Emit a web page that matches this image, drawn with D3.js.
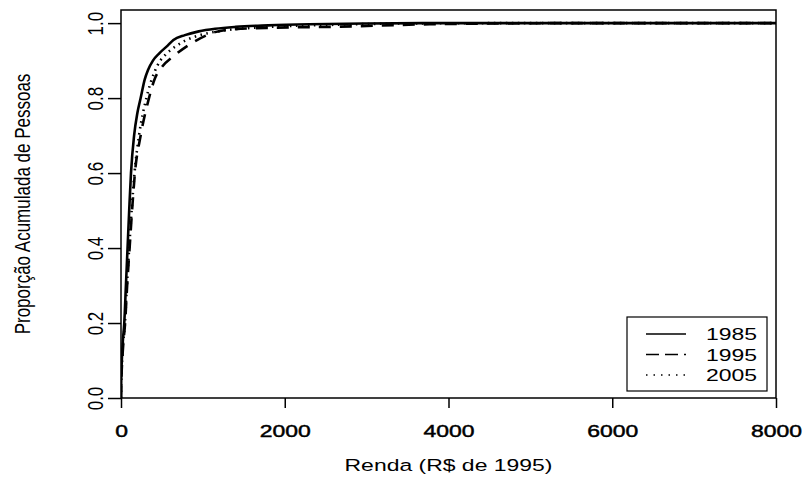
<!doctype html>
<html lang="pt">
  <head>
    <meta charset="UTF-8" />
    <title>Proporção Acumulada de Pessoas</title>
    <script src="https://d3js.org/d3.v7.min.js"></script>
    <style>
      body { margin: 0; background: #fff; }
      svg { display: block; }
      text { font-family: "Liberation Sans", Arial, sans-serif; fill: #000; }
    </style>
  </head>
  <body>
    <svg width="805" height="479"></svg>
    <script>
      // dados
      const anos = ["1985", "1995", "2005"];
      const renda1985 = [0, 3, 10, 22, 40, 60, 80, 100, 122, 160, 200, 240, 290, 330, 390, 470, 570, 640, 780, 950, 1150, 1400, 1800, 2300, 3000, 4000, 8000];
      const prop1985 = [0, 0.05, 0.1, 0.15, 0.2, 0.3, 0.4, 0.5, 0.6, 0.7, 0.76, 0.8, 0.85, 0.875, 0.9, 0.92, 0.94, 0.955, 0.968, 0.978, 0.985, 0.99, 0.994, 0.997, 0.999, 1.0, 1.0];
      const renda1995 = [0, 5, 15, 30, 50, 75, 105, 135, 170, 240, 330, 415, 500, 660, 867, 1148, 1392, 1900, 2550, 3770, 5500, 8000];
      const prop1995 = [0, 0.05, 0.1, 0.15, 0.2, 0.3, 0.4, 0.5, 0.6, 0.7, 0.79, 0.853, 0.883, 0.915, 0.947, 0.976, 0.984, 0.988, 0.99, 0.997, 1.0, 1.0];
      const renda2005 = [0, 4, 13, 28, 48, 72, 100, 130, 165, 220, 310, 410, 480, 540, 680, 800, 1000, 1250, 1800, 2500, 3500, 5000, 8000];
      const prop2005 = [0, 0.05, 0.1, 0.15, 0.2, 0.3, 0.4, 0.5, 0.6, 0.7, 0.8, 0.87, 0.9, 0.915, 0.94, 0.955, 0.97, 0.98, 0.99, 0.995, 0.999, 1.0, 1.0];
      const xTicks = [0, 2000, 4000, 6000, 8000];
      const yTicks = [0, 0.2, 0.4, 0.6, 0.8, 1.0];

      const series = [
        { ano: anos[0], renda: renda1985, prop: prop1985, dash: null, legDash: null },
        { ano: anos[1], renda: renda1995, prop: prop1995, dash: "12,9", legDash: "13,6" },
        { ano: anos[2], renda: renda2005, prop: prop2005, dash: "1.5,4.5", legDash: "1.5,6" }
      ];

      const svg = d3.select("svg");
      const pLeft = 121, pRight = 776, pTop = 10, pBottom = 398;
      const k = 1.35; // esticamento horizontal do texto
      const fs = 17;

      const x = d3.scaleLinear().domain([0, 8000]).range([pLeft, pRight]);
      const y = d3.scaleLinear().domain([0, 1.035]).range([pBottom, pTop]);

      const line = d3.line()
        .x((d) => x(d[0]))
        .y((d) => y(d[1]))
        .curve(d3.curveMonotoneX);

      svg.append("defs").append("clipPath").attr("id", "clip")
        .append("rect").attr("x", pLeft).attr("y", pTop)
        .attr("width", pRight - pLeft).attr("height", pBottom - pTop);

      const curves = svg.append("g").attr("clip-path", "url(#clip)");
      series.forEach((s) => {
        curves.append("path")
          .datum(s.renda.map((r, i) => [r, s.prop[i]]))
          .attr("d", line)
          .attr("fill", "none")
          .attr("stroke", "#000")
          .attr("stroke-width", 2.6)
          .attr("stroke-dasharray", s.dash);
      });

      // caixa
      svg.append("rect")
        .attr("x", pLeft).attr("y", pTop)
        .attr("width", pRight - pLeft).attr("height", pBottom - pTop)
        .attr("fill", "none").attr("stroke", "#000").attr("stroke-width", 1.5);

      // eixo x
      const gx = svg.append("g")
        .attr("transform", `translate(0,${pBottom})`)
        .call(d3.axisBottom(x).tickValues(xTicks).tickSize(10).tickFormat(d3.format("d")));
      gx.select(".domain").remove();
      gx.selectAll("line").attr("stroke-width", 1.5);
      gx.selectAll("text")
        .attr("y", null).attr("dy", null)
        .attr("font-size", fs)
        .attr("stroke", "#000")
        .attr("stroke-width", 0.45)
        .attr("text-anchor", "middle")
        .attr("transform", `translate(0,39) scale(${k},1)`);

      // eixo y
      const gy = svg.append("g")
        .attr("transform", `translate(${pLeft},0)`)
        .call(d3.axisLeft(y).tickValues(yTicks).tickSize(13).tickFormat(d3.format(".1f")));
      gy.select(".domain").remove();
      gy.selectAll("line").attr("stroke-width", 1.5);
      gy.selectAll("text")
        .attr("x", null).attr("dy", null)
        .attr("font-size", fs)
        .attr("text-anchor", "middle")
        .attr("transform", `translate(-18,0) scale(${k},1) rotate(-90)`);

      // títulos
      svg.append("text")
        .attr("transform", `translate(${(pLeft + pRight) / 2},471) scale(${k},1)`)
        .attr("text-anchor", "middle")
        .attr("font-size", fs)
        .text("Renda (R$ de 1995)");

      svg.append("text")
        .attr("transform", `translate(30,${(pTop + pBottom) / 2}) scale(${k},1) rotate(-90)`)
        .attr("text-anchor", "middle")
        .attr("font-size", fs)
        .text("Proporção Acumulada de Pessoas");

      // legenda
      const leg = svg.append("g");
      leg.append("rect")
        .attr("x", 627).attr("y", 317).attr("width", 140).attr("height", 74)
        .attr("fill", "#fff").attr("stroke", "#000").attr("stroke-width", 1.2);
      series.forEach((s, i) => {
        const yy = 334 + i * 20.5;
        leg.append("line")
          .attr("x1", 646).attr("x2", 686).attr("y1", yy).attr("y2", yy)
          .attr("stroke", "#000").attr("stroke-width", 1.6)
          .attr("stroke-dasharray", s.legDash);
        leg.append("text")
          .attr("transform", `translate(706,${yy + 6}) scale(${k},1)`)
          .attr("font-size", fs)
          .text(s.ano);
      });
    </script>
  </body>
</html>
